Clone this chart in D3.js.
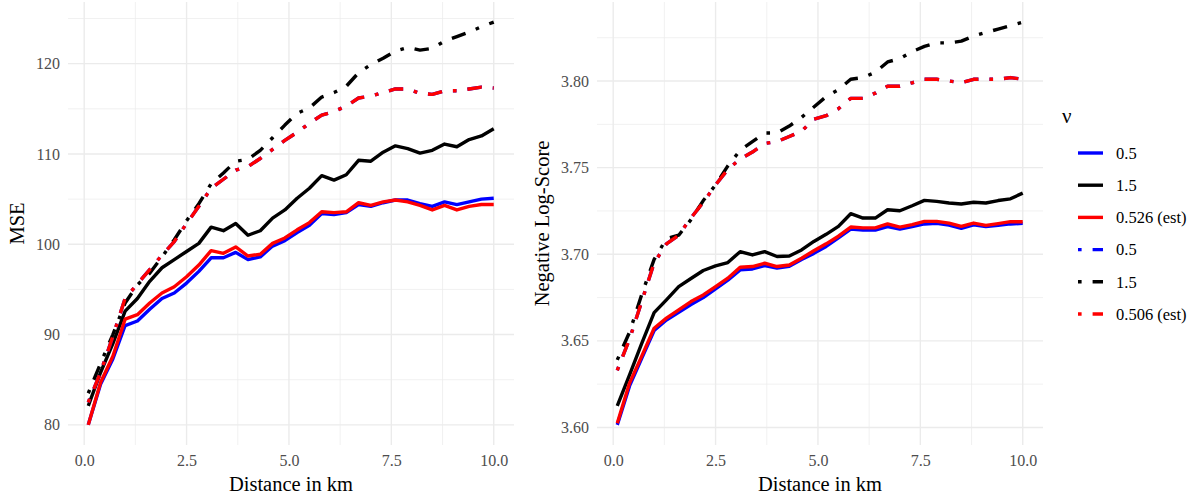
<!DOCTYPE html>
<html>
<head>
<meta charset="utf-8">
<script src="https://cdn.jsdelivr.net/npm/d3@7"></script>
<style>
  body { margin: 0; background: #fff; }
  svg { font-family: "Liberation Serif", serif; }
</style>
</head>
<body>
<div id="chart"></div>
<script>
/* DATA */
const distKm = [0.1, 0.4, 0.7, 1.0, 1.3, 1.6, 1.9, 2.2, 2.5, 2.8, 3.1, 3.4, 3.7, 4.0, 4.3, 4.6, 4.9,
  5.2, 5.5, 5.8, 6.1, 6.4, 6.7, 7.0, 7.3, 7.6, 7.9, 8.2, 8.5, 8.8, 9.1, 9.4, 9.7, 10.0];

// MSE panel
const mseSolid05 = [80.0, 84.5, 87.3, 91.0, 91.5, 92.8, 94.0, 94.6, 95.7, 97.0, 98.5, 98.5, 99.1, 98.3, 98.6, 99.8, 100.4,
  101.3, 102.1, 103.4, 103.3, 103.5, 104.4, 104.2, 104.6, 104.9, 104.9, 104.5, 104.2, 104.7, 104.4, 104.7, 105.0, 105.1];
const mseSolid15 = [82.1, 85.8, 89.0, 92.6, 94.0, 95.9, 97.4, 98.3, 99.2, 100.1, 101.9, 101.5, 102.3, 101.0, 101.5, 102.9, 103.8,
  105.1, 106.2, 107.6, 107.1, 107.7, 109.3, 109.2, 110.2, 110.9, 110.6, 110.1, 110.4, 111.1, 110.8, 111.6, 112.0, 112.8];
const mseSolidEst = [80.0, 84.7, 87.6, 91.7, 92.2, 93.5, 94.6, 95.3, 96.4, 97.7, 99.3, 99.0, 99.7, 98.7, 98.9, 100.1, 100.7,
  101.6, 102.4, 103.6, 103.5, 103.6, 104.6, 104.3, 104.7, 104.9, 104.7, 104.3, 103.8, 104.3, 103.8, 104.2, 104.4, 104.4];
const mseDash05 = [82.5, 85.8, 89.8, 94.0, 95.6, 97.2, 98.8, 100.3, 102.3, 104.2, 106.2, 107.2, 108.2, 108.6, 109.5, 110.5, 111.5,
  112.4, 113.4, 114.3, 114.7, 115.3, 116.2, 116.4, 116.8, 117.2, 117.2, 116.7, 116.6, 117.0, 117.0, 117.2, 117.4, 117.3];
const mseDash15 = [83.5, 86.8, 90.0, 93.5, 95.5, 96.8, 98.6, 100.5, 102.6, 104.5, 106.7, 107.9, 109.2, 109.4, 110.4, 111.8, 113.2,
  114.5, 115.1, 116.3, 116.8, 117.5, 119.0, 119.9, 120.6, 121.4, 121.8, 121.5, 121.7, 122.5, 123.0, 123.5, 124.1, 124.6];
const mseDashEst = [82.5, 85.8, 89.8, 94.0, 95.6, 97.2, 98.8, 100.3, 102.3, 104.2, 106.2, 107.2, 108.2, 108.6, 109.5, 110.5, 111.5,
  112.4, 113.4, 114.3, 114.7, 115.3, 116.2, 116.4, 116.8, 117.2, 117.2, 116.7, 116.6, 117.0, 117.0, 117.2, 117.4, 117.3];

// Negative log-score panel
const nlsSolid05 = [3.6015, 3.624, 3.640, 3.656, 3.662, 3.6665, 3.671, 3.675, 3.680, 3.685, 3.691, 3.6915, 3.6935, 3.692, 3.693, 3.697, 3.7005,
  3.7045, 3.7095, 3.7145, 3.714, 3.714, 3.716, 3.7145, 3.716, 3.7175, 3.7178, 3.7168, 3.715, 3.717, 3.716, 3.7167, 3.7175, 3.7178];
const nlsSolid15 = [3.6125, 3.6304, 3.6487, 3.6663, 3.6737, 3.6813, 3.686, 3.6906, 3.6933, 3.6952, 3.7015, 3.6996, 3.7015, 3.6987, 3.699, 3.7025, 3.7074,
  3.7115, 3.7161, 3.7234, 3.7209, 3.7209, 3.7257, 3.7251, 3.728, 3.7311, 3.7305, 3.7296, 3.729, 3.730, 3.7296, 3.731, 3.732, 3.7353];
const nlsSolidEst = [3.6025, 3.6256, 3.6413, 3.6573, 3.6631, 3.6679, 3.6727, 3.6765, 3.6813, 3.6862, 3.6925, 3.6929, 3.6948, 3.6929, 3.6938, 3.6977, 3.702,
  3.706, 3.7104, 3.7157, 3.7152, 3.7152, 3.7175, 3.7157, 3.7171, 3.719, 3.719, 3.718, 3.7161, 3.718, 3.7167, 3.7177, 3.7188, 3.7188];
const nlsDash05 = [3.633, 3.651, 3.673, 3.695, 3.706, 3.711, 3.721, 3.730, 3.740, 3.749, 3.755, 3.759, 3.764, 3.765, 3.768, 3.771, 3.778,
  3.780, 3.784, 3.790, 3.790, 3.793, 3.797, 3.797, 3.799, 3.801, 3.801, 3.800, 3.799, 3.801, 3.801, 3.801, 3.802, 3.801];
const nlsDash15 = [3.639, 3.655, 3.677, 3.697, 3.709, 3.711, 3.720, 3.731, 3.740, 3.751, 3.760, 3.765, 3.770, 3.770, 3.774, 3.779, 3.785,
  3.791, 3.795, 3.801, 3.802, 3.805, 3.811, 3.813, 3.817, 3.820, 3.822, 3.822, 3.823, 3.826, 3.828, 3.830, 3.832, 3.834];
const nlsDashEst = [3.633, 3.651, 3.673, 3.695, 3.706, 3.711, 3.721, 3.730, 3.740, 3.749, 3.755, 3.759, 3.764, 3.765, 3.768, 3.771, 3.778,
  3.780, 3.784, 3.790, 3.790, 3.793, 3.797, 3.797, 3.799, 3.801, 3.801, 3.800, 3.799, 3.801, 3.801, 3.801, 3.802, 3.801];

const legendLabels = ["0.5", "1.5", "0.526 (est)", "0.5", "1.5", "0.506 (est)"];
const xTicks = [0, 2.5, 5, 7.5, 10];
const xMinor = [1.25, 3.75, 6.25, 8.75];
const mseTicks = [80, 90, 100, 110, 120];
const mseMinor = [85, 95, 105, 115, 125];
const nlsTicks = [3.60, 3.65, 3.70, 3.75, 3.80];
const nlsMinor = [3.625, 3.675, 3.725, 3.775, 3.825];

/* CONSTANTS AND GLOBALS */
const width = 1196, height = 500;
const panelTop = 2, panelBottom = 445;
const lineW = 3.4;
const dotdash = "3.6,11,14.5,11";
const gridCol = "#ebebeb";
// style per series, same order as the legend
const styles = [
  { color: "#0000ff", dash: null },
  { color: "#000000", dash: null },
  { color: "#ff0000", dash: null },
  { color: "#0000ff", dash: dotdash },
  { color: "#000000", dash: dotdash },
  { color: "#ff0000", dash: dotdash }
];

let svg;

// ggplot style 5% padding
function expand(ext) {
  const pad = (ext[1] - ext[0]) * 0.05;
  return [ext[0] - pad, ext[1] + pad];
}

function drawPanel(opts) {
  const g = svg.append("g");
  const x = d3.scaleLinear().domain(expand(d3.extent(distKm))).range([opts.left, opts.right]);
  const y = d3.scaleLinear().domain(expand(d3.extent(opts.series.flat()))).range([panelBottom, panelTop]);

  // grid
  g.selectAll(".vminor").data(xMinor).join("line")
    .attr("x1", d => x(d)).attr("x2", d => x(d))
    .attr("y1", panelTop).attr("y2", panelBottom)
    .attr("stroke", gridCol).attr("stroke-width", 0.7);
  g.selectAll(".hminor").data(opts.minor).join("line")
    .attr("x1", opts.left).attr("x2", opts.right)
    .attr("y1", d => y(d)).attr("y2", d => y(d))
    .attr("stroke", gridCol).attr("stroke-width", 0.7);
  g.selectAll(".vmajor").data(xTicks).join("line")
    .attr("x1", d => x(d)).attr("x2", d => x(d))
    .attr("y1", panelTop).attr("y2", panelBottom)
    .attr("stroke", gridCol).attr("stroke-width", 1.4);
  g.selectAll(".hmajor").data(opts.ticks).join("line")
    .attr("x1", opts.left).attr("x2", opts.right)
    .attr("y1", d => y(d)).attr("y2", d => y(d))
    .attr("stroke", gridCol).attr("stroke-width", 1.4);

  // lines
  const line = d3.line().x((d, i) => x(distKm[i])).y(d => y(d));
  g.selectAll(".series").data(opts.series).join("path")
    .attr("d", line)
    .attr("fill", "none")
    .attr("stroke", (d, i) => styles[i].color)
    .attr("stroke-width", lineW)
    .attr("stroke-linejoin", "round")
    .attr("stroke-linecap", "butt")
    .attr("stroke-dasharray", (d, i) => styles[i].dash);

  // axes
  const xAxis = d3.axisBottom(x).tickValues(xTicks).tickFormat(d3.format(".1f")).tickSize(0).tickPadding(10);
  const yAxis = d3.axisLeft(y).tickValues(opts.ticks).tickFormat(opts.fmt).tickSize(0).tickPadding(8);

  g.append("g")
    .attr("transform", `translate(0, ${panelBottom})`)
    .call(xAxis)
    .call(a => a.select(".domain").remove())
    .selectAll("text")
    .attr("font-family", "Liberation Serif, serif")
    .attr("font-size", 16)
    .attr("fill", "#4d4d4d");

  g.append("g")
    .attr("transform", `translate(${opts.left}, 0)`)
    .call(yAxis)
    .call(a => a.select(".domain").remove())
    .selectAll("text")
    .attr("font-family", "Liberation Serif, serif")
    .attr("font-size", 16)
    .attr("fill", "#4d4d4d");

  g.append("text")
    .attr("x", (opts.left + opts.right) / 2)
    .attr("y", 491)
    .attr("text-anchor", "middle")
    .attr("font-size", 20.5)
    .text("Distance in km");

  g.append("text")
    .attr("transform", `translate(${opts.titleX}, ${(panelTop + panelBottom) / 2}) rotate(-90)`)
    .attr("text-anchor", "middle")
    .attr("font-size", 20.5)
    .text(opts.title);
}

function drawLegend() {
  const lg = svg.append("g");
  lg.append("text")
    .attr("x", 1062)
    .attr("y", 123)
    .attr("font-size", 21)
    .text("ν");

  const rows = lg.selectAll(".key").data(legendLabels).join("g")
    .attr("transform", (d, i) => `translate(1078, ${153 + i * 32.2})`);
  rows.append("line")
    .attr("x1", 0).attr("x2", 25)
    .attr("stroke", (d, i) => styles[i].color)
    .attr("stroke-width", lineW)
    .attr("stroke-dasharray", (d, i) => styles[i].dash);
  rows.append("text")
    .attr("x", 38)
    .attr("dy", "0.35em")
    .attr("font-size", 16.5)
    .text(d => d);
}

function init() {
  svg = d3.select("#chart").append("svg")
    .attr("width", width)
    .attr("height", height);

  drawPanel({
    left: 68, right: 514,
    series: [mseSolid05, mseSolid15, mseSolidEst, mseDash05, mseDash15, mseDashEst],
    ticks: mseTicks, minor: mseMinor, fmt: d3.format("d"),
    title: "MSE", titleX: 24
  });
  drawPanel({
    left: 597, right: 1043,
    series: [nlsSolid05, nlsSolid15, nlsSolidEst, nlsDash05, nlsDash15, nlsDashEst],
    ticks: nlsTicks, minor: nlsMinor, fmt: d3.format(".2f"),
    title: "Negative Log-Score", titleX: 549
  });
  drawLegend();
}

init();
</script>
</body>
</html>
